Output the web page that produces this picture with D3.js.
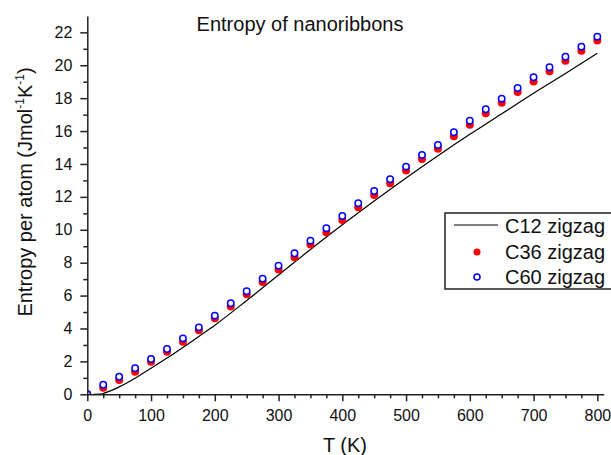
<!DOCTYPE html>
<html>
<head>
<meta charset="utf-8">
<script src="https://cdn.jsdelivr.net/npm/d3@7"></script>
<style>
  body { margin: 0; background: #fff; }
  svg { font-family: "Liberation Sans", Arial, sans-serif; }
</style>
</head>
<body>
<div id="chart"></div>
<script>
// temperatures for the symbol series (K)
const temps = [0, 25, 50, 75, 100, 125, 150, 175, 200, 225, 250, 275, 300, 325, 350, 375, 400,
  425, 450, 475, 500, 525, 550, 575, 600, 625, 650, 675, 700, 725, 750, 775, 800];
const c36 = [0, 0.4, 0.87, 1.37, 1.98, 2.59, 3.2, 3.9, 4.62, 5.33, 6.08, 6.82, 7.58, 8.33, 9.1, 9.85, 10.6,
  11.37, 12.12, 12.83, 13.6, 14.3, 14.92, 15.68, 16.38, 17.08, 17.72, 18.38, 19.02, 19.64, 20.27, 20.88, 21.5];
const c60 = [0, 0.58, 1.07, 1.58, 2.15, 2.75, 3.4, 4.07, 4.78, 5.53, 6.26, 7.03, 7.82, 8.57, 9.34, 10.09, 10.84,
  11.61, 12.36, 13.07, 13.84, 14.55, 15.15, 15.93, 16.63, 17.33, 17.97, 18.62, 19.27, 19.88, 20.52, 21.13, 21.74];
// C12 curve
const c12T = [10, 20, 25, 30, 40, 50, 75, 100, 125, 150, 175, 200, 250, 300, 350, 400, 450, 500, 550, 600, 650, 700, 750, 800];
const c12S = [0, 0.01, 0.05, 0.12, 0.27, 0.45, 0.98, 1.58, 2.2, 2.85, 3.52, 4.2, 5.7, 7.25, 8.8, 10.3, 11.75, 13.15, 14.5, 15.8, 17.05, 18.3, 19.5, 20.73];

const xTicks = [0, 100, 200, 300, 400, 500, 600, 700, 800];
const yTicks = [0, 2, 4, 6, 8, 10, 12, 14, 16, 18, 20, 22];
const seriesNames = ["C12 zigzag", "C36 zigzag", "C60 zigzag"];

const W = 611, H = 455;
const svg = d3.select("#chart").append("svg")
  .attr("width", W).attr("height", H);

const x = d3.scaleLinear().domain([0, 810]).range([87.3, 603.7]);
const y = d3.scaleLinear().domain([0, 23]).range([394.3, 15.9]);

svg.append("clipPath").attr("id", "plotclip")
  .append("rect")
    .attr("x", x(0)).attr("y", y(23))
    .attr("width", x(810) - x(0)).attr("height", y(0) - y(23));

const plot = svg.append("g").attr("clip-path", "url(#plotclip)");

// C12 line
const lineData = c12T.map((t, i) => [t, c12S[i]]);
plot.append("path")
  .datum(lineData)
  .attr("fill", "none")
  .attr("stroke", "#000")
  .attr("stroke-width", 1.2)
  .attr("d", d3.line().x(d => x(d[0])).y(d => y(d[1])).curve(d3.curveMonotoneX));

// C36 red filled
plot.selectAll(".c36")
  .data(temps.map((t, i) => [t, c36[i]]))
  .enter().append("circle")
    .attr("class", "c36")
    .attr("cx", d => x(d[0]))
    .attr("cy", d => y(d[1]))
    .attr("r", 4)
    .attr("fill", "#ff0000");

// C60 blue open
plot.selectAll(".c60")
  .data(temps.map((t, i) => [t, c60[i]]))
  .enter().append("circle")
    .attr("class", "c60")
    .attr("cx", d => x(d[0]))
    .attr("cy", d => y(d[1]))
    .attr("r", 3.2)
    .attr("fill", "#fff")
    .attr("stroke", "#0000ff")
    .attr("stroke-width", 1.5);

// axes
const xAxis = svg.append("g")
  .attr("transform", `translate(0, ${y(0)})`)
  .call(d3.axisBottom(x).tickValues(xTicks).tickSize(7).tickPadding(6).tickSizeOuter(0));
xAxis.selectAll(".tick text").attr("font-size", 16).attr("fill", "#111").attr("dy", "0.85em");

svg.append("g")
  .attr("transform", `translate(0, ${y(0)})`)
  .call(d3.axisBottom(x).tickValues(d3.range(25, 810, 25).filter(v => v % 100 !== 0)).tickSize(4).tickFormat("").tickSizeOuter(0))
  .select(".domain").remove();

const yAxis = svg.append("g")
  .attr("transform", `translate(${x(0)}, 0)`)
  .call(d3.axisLeft(y).tickValues(yTicks).tickSize(7).tickPadding(8).tickSizeOuter(0));
yAxis.selectAll(".tick text").attr("font-size", 16).attr("fill", "#111");

svg.append("g")
  .attr("transform", `translate(${x(0)}, 0)`)
  .call(d3.axisLeft(y).tickValues(d3.range(1, 23, 2)).tickSize(4).tickFormat("").tickSizeOuter(0))
  .select(".domain").remove();

svg.selectAll(".domain, .tick line").attr("stroke", "#222").attr("stroke-width", 1.5);

// titles
svg.append("text")
  .attr("x", 300).attr("y", 31)
  .attr("text-anchor", "middle")
  .attr("font-size", 20).attr("fill", "#111")
  .text("Entropy of nanoribbons");

svg.append("text")
  .attr("x", 345).attr("y", 452)
  .attr("text-anchor", "middle")
  .attr("font-size", 20).attr("fill", "#111")
  .text("T (K)");

const yl = svg.append("text")
  .attr("transform", "translate(32, 192) rotate(-90)")
  .attr("text-anchor", "middle")
  .attr("font-size", 20).attr("fill", "#111");
yl.append("tspan").text("Entropy per atom (Jmol");
yl.append("tspan").attr("font-size", 12).attr("dy", -8).text("-1");
yl.append("tspan").attr("dy", 8).text("K");
yl.append("tspan").attr("font-size", 12).attr("dy", -8).text("-1");
yl.append("tspan").attr("dy", 8).text(")");

// legend
const leg = svg.append("g");
leg.append("rect")
  .attr("x", 445).attr("y", 213)
  .attr("width", 200).attr("height", 76)
  .attr("fill", "#fff").attr("stroke", "#222").attr("stroke-width", 1.5);
leg.append("line")
  .attr("x1", 454).attr("x2", 498).attr("y1", 225).attr("y2", 225)
  .attr("stroke", "#000").attr("stroke-width", 1.2);
leg.append("circle").attr("cx", 477).attr("cy", 252).attr("r", 3.5).attr("fill", "#ff0000");
leg.append("circle").attr("cx", 477).attr("cy", 277).attr("r", 3)
  .attr("fill", "#fff").attr("stroke", "#0000ff").attr("stroke-width", 1.5);
leg.selectAll(".lt")
  .data(seriesNames)
  .enter().append("text")
    .attr("class", "lt")
    .attr("x", 505)
    .attr("y", (d, i) => 233 + i * 25.5)
    .attr("font-size", 20).attr("fill", "#111")
    .text(d => d);
</script>
</body>
</html>
